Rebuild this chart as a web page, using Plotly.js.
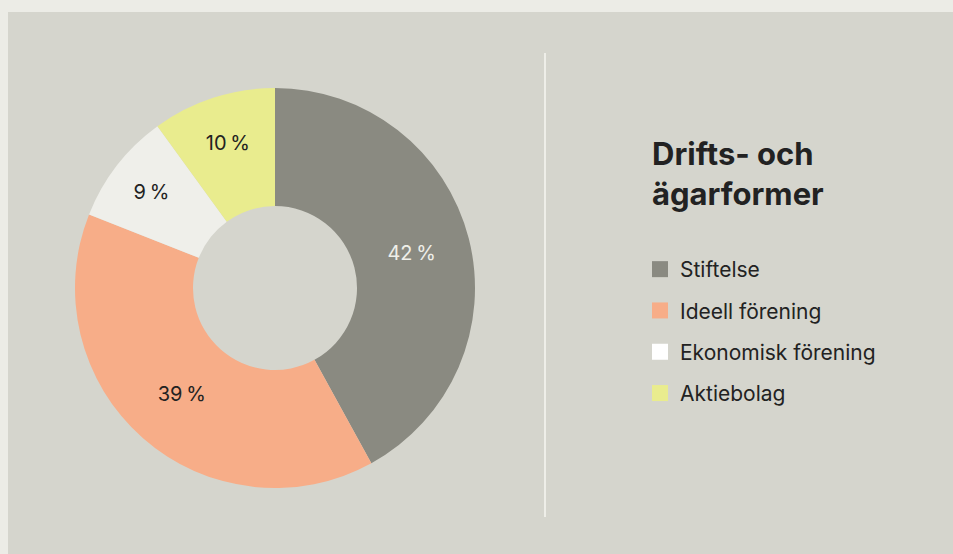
<!DOCTYPE html>
<html>
<head>
<meta charset="utf-8">
<script src="https://cdn.plot.ly/plotly-3.0.1.min.js"></script>
<style>
  html, body { margin: 0; padding: 0; background: #ecece6; }
  #chart { width: 953px; height: 554px; }
</style>
</head>
<body>
<div id="chart"></div>
<script>
// Data
const categories = ['Stiftelse', 'Ideell förening', 'Ekonomisk förening', 'Aktiebolag'];
const shares = [42, 39, 9, 10];
const sliceColors = ['#8a8a81', '#f7ad88', '#efefea', '#e9ec8e'];
const swatchColors = ['#8a8a81', '#f7ad88', '#ffffff', '#e9ec8e'];
const labelColors = ['#efefe9', '#222222', '#222222', '#222222'];
const chartTitle = 'Drifts- och<br>ägarformer';

const W = 953, H = 554;
const FONT = 'Inter, "Noto Sans", sans-serif';

const pie = {
  type: 'pie',
  labels: categories,
  values: shares,
  sort: false,
  direction: 'clockwise',
  rotation: 0,
  hole: 0.41,
  marker: { colors: sliceColors, line: { width: 0 } },
  texttemplate: '%{value}\u2009%',
  textposition: 'inside',
  insidetextorientation: 'horizontal',
  textfont: { family: FONT, size: 20, color: labelColors },
  hoverinfo: 'none',
  showlegend: false,
  domain: { x: [75 / W, 475 / W], y: [1 - 488 / H, 1 - 88 / H] }
};

const legendTraces = categories.map((c, i) => ({
  type: 'scatter',
  mode: 'markers',
  x: [null], y: [null],
  name: c,
  legendgroup: 'g' + i,
  marker: { symbol: 'square', size: 16, color: swatchColors[i], line: { width: 0 } },
  hoverinfo: 'none',
  showlegend: true
}));

const layout = {
  width: W, height: H,
  margin: { l: 0, r: 0, t: 0, b: 0 },
  paper_bgcolor: '#ecece6',
  plot_bgcolor: 'rgba(0,0,0,0)',
  font: { family: FONT, color: '#222222' },
  xaxis: { visible: false, domain: [0.7, 0.71] },
  yaxis: { visible: false, domain: [0.0, 0.01] },
  title: {
    text: chartTitle,
    x: 652 / W, xref: 'paper', xanchor: 'left',
    y: 1 - 165 / H, yref: 'paper', yanchor: 'top',
    font: { family: FONT, size: 31, weight: 700, color: '#222222' }
  },
  legend: {
    x: 640 / W, xanchor: 'left',
    y: 1 - 249 / H, yanchor: 'top',
    bgcolor: 'rgba(0,0,0,0)',
    borderwidth: 0,
    tracegroupgap: 11,
    font: { family: FONT, size: 21, color: '#222222' },
    itemclick: false, itemdoubleclick: false
  },
  shapes: [
    { type: 'rect', xref: 'paper', yref: 'paper', x0: 8 / W, x1: 1, y0: 0, y1: 1 - 12 / H,
      fillcolor: '#d5d5cd', line: { width: 0 }, layer: 'below' },
    { type: 'line', xref: 'paper', yref: 'paper', x0: 545 / W, x1: 545 / W, y0: 1 - 517 / H, y1: 1 - 53 / H,
      line: { color: '#eeeee8', width: 2 }, layer: 'above' }
  ],
  showlegend: true
};

Plotly.newPlot('chart', [pie, ...legendTraces], layout, { displayModeBar: false, staticPlot: true });
</script>
</body>
</html>
